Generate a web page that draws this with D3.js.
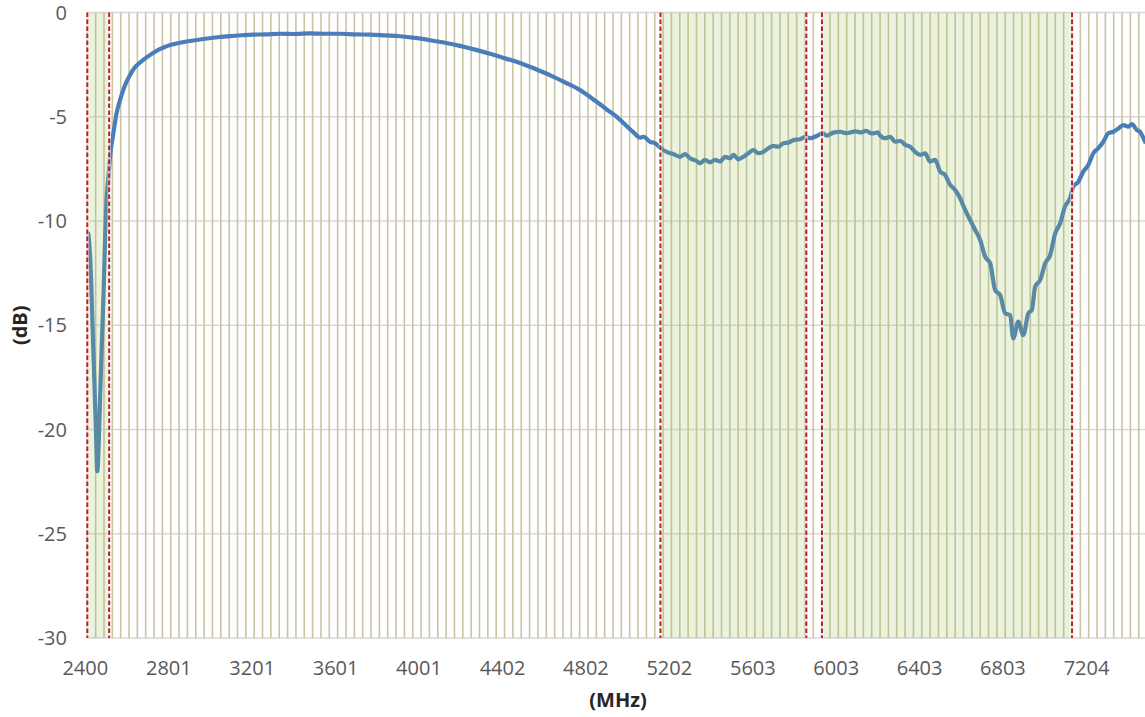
<!DOCTYPE html>
<html>
<head>
<meta charset="utf-8">
<script src="https://cdn.jsdelivr.net/npm/d3@7"></script>
<style>
  html, body { margin: 0; padding: 0; background: #fff; }
  svg { display: block; }
</style>
</head>
<body>
<svg id="chart" width="1145" height="717"></svg>
<script>
// ---- data ----
const freqMHz = [2405,2413,2429,2442,2448,2455,2461,2471,2477,2485,2493,2502,2509,2525,2541,2557,2573,2589,2605,2619,
  2653,2685,2725,2763,2802,2845,2883,2925,2965,3003,3042,3085,3142,3195,3253,3325,3397,3469,3541,3613,
  3685,3757,3829,3901,3973,4045,4116,4188,4260,4332,4404,4476,4548,4620,4692,4764,4812,4860,4892,4924,
  4940,4972,5004,5020,5052,5068,5100,5124,5145,5164,5188,5212,5244,5268,5292,5324,5340,5364,5388,5412,
  5436,5460,5484,5500,5524,5548,5572,5596,5620,5644,5668,5692,5716,5740,5764,5788,5820,5844,5868,5900,
  5929,5948,5980,6012,6044,6060,6084,6108,6137,6165,6194,6204,6228,6252,6276,6300,6324,6348,6372,6396,
  6420,6444,6468,6492,6516,6540,6564,6588,6612,6636,6660,6684,6708,6732,6756,6780,6804,6828,6843,6867,
  6891,6915,6932,6948,6972,6996,7020,7044,7068,7091,7115,7131,7155,7179,7203,7227,7251,7275,7299,7323,
  7347,7371,7395,7412,7436,7451,7475];
const lossDb = [-10.6,-11.6,-16.2,-20.2,-22.0,-20.6,-18.6,-15.5,-13.8,-11.0,-8.9,-7.8,-6.9,-5.8,-4.8,-4.2,-3.7,-3.3,-3.0,-2.75,
  -2.4,-2.15,-1.88,-1.69,-1.55,-1.45,-1.38,-1.32,-1.26,-1.21,-1.17,-1.13,-1.09,-1.06,-1.05,-1.02,-1.03,-1.0,-1.02,-1.02,
  -1.05,-1.06,-1.1,-1.14,-1.22,-1.33,-1.45,-1.6,-1.78,-1.98,-2.2,-2.42,-2.7,-3.0,-3.35,-3.72,-4.05,-4.4,-4.65,-4.88,
  -5.0,-5.3,-5.6,-5.74,-6.0,-5.96,-6.2,-6.27,-6.44,-6.6,-6.72,-6.79,-6.92,-6.79,-6.99,-7.12,-7.23,-7.07,-7.19,-7.07,
  -7.15,-6.92,-6.99,-6.83,-7.04,-6.92,-6.75,-6.6,-6.75,-6.68,-6.51,-6.4,-6.44,-6.27,-6.24,-6.12,-6.08,-5.96,-6.03,-5.92,
  -5.79,-5.91,-5.76,-5.72,-5.79,-5.76,-5.7,-5.75,-5.68,-5.8,-5.75,-5.9,-6.03,-5.96,-6.2,-6.15,-6.35,-6.44,-6.68,-6.83,
  -6.75,-7.15,-7.07,-7.63,-7.79,-8.27,-8.51,-8.91,-9.47,-9.95,-10.43,-10.91,-11.71,-12.03,-13.31,-13.55,-14.43,-14.51,-15.63,-14.83,
  -15.47,-14.43,-14.27,-13.15,-12.83,-12.03,-11.63,-10.59,-10.11,-9.31,-8.91,-8.35,-8.12,-7.63,-7.31,-6.75,-6.51,-6.2,-5.79,-5.72,
  -5.56,-5.4,-5.48,-5.35,-5.64,-5.72,-6.2];

const xTickLabels = ["2400","2801","3201","3601","4001","4402","4802","5202","5603","6003","6403","6803","7204"];
const yTicks = [0, -5, -10, -15, -20, -25, -30];
const bandStart = [2400, 5150, 5925];
const bandEnd   = [2505, 5850, 7125];
const markerMHz = [2400, 2505, 5150, 5850, 5925, 7125];
const gridStepMHz = 40.04;
const xStart = 2400, xEnd = 7475;

// ---- layout ----
const L = 87.3, R = 1145, T = 12.5, B = 638;
const svg = d3.select("#chart");
const x = d3.scaleLinear().domain([xStart, xEnd]).range([L, R]);
const y = d3.scaleLinear().domain([-30, 0]).range([B, T]);

svg.append("defs").append("clipPath").attr("id", "plot")
  .append("rect").attr("x", L).attr("y", T - 5).attr("width", R - L).attr("height", B - T + 10);

// horizontal gridlines
svg.append("g").selectAll("line").data(yTicks).join("line")
  .attr("x1", L).attr("x2", R)
  .attr("y1", d => y(d)).attr("y2", d => y(d))
  .attr("stroke", "#d9d9d9").attr("stroke-width", 1.5);

// vertical gridlines
const vgrid = d3.range(0, Math.floor((xEnd - xStart) / gridStepMHz) + 1).map(i => xStart + i * gridStepMHz);
svg.append("g").selectAll("line").data(vgrid).join("line")
  .attr("x1", d => x(d)).attr("x2", d => x(d))
  .attr("y1", T).attr("y2", B)
  .attr("stroke", "#cbc4a4").attr("stroke-width", 1.6);

// curve
const data = freqMHz.map((f, i) => ({ f, v: lossDb[i] }));
svg.append("path").datum(data)
  .attr("clip-path", "url(#plot)")
  .attr("fill", "none")
  .attr("stroke", "#4a7ebb")
  .attr("stroke-width", 4.2)
  .attr("stroke-linejoin", "round")
  .attr("stroke-linecap", "round")
  .attr("d", d3.line().x(d => x(d.f)).y(d => y(d.v)).curve(d3.curveMonotoneX));

// green bands (translucent overlay)
svg.append("g").selectAll("rect").data(bandStart).join("rect")
  .attr("x", d => x(d))
  .attr("width", (d, i) => x(bandEnd[i]) - x(d))
  .attr("y", T).attr("height", B - T)
  .attr("fill", "rgb(150,190,80)").attr("fill-opacity", 0.19);

// red dashed markers
const mk = svg.append("g");
mk.selectAll("line.w").data(markerMHz).join("line").attr("class", "w")
  .attr("x1", d => x(d)).attr("x2", d => x(d)).attr("y1", T).attr("y2", B)
  .attr("stroke", "#ffffff").attr("stroke-opacity", 0.55).attr("stroke-width", 3.5);
mk.selectAll("line.r").data(markerMHz).join("line").attr("class", "r")
  .attr("x1", d => x(d)).attr("x2", d => x(d)).attr("y1", T).attr("y2", B)
  .attr("stroke", "#b81e22").attr("stroke-width", 2).attr("stroke-dasharray", "4.5,2.5");

// y tick labels
svg.append("g").selectAll("text").data(yTicks).join("text")
  .attr("x", 67).attr("y", d => y(d))
  .attr("dy", "0.36em")
  .attr("text-anchor", "end")
  .attr("font-family", "'Open Sans', sans-serif").attr("font-size", 20)
  .attr("fill", "#595959")
  .text(d => d);

// x tick labels
svg.append("g").selectAll("text").data(xTickLabels).join("text")
  .attr("x", d => x(+d) - 2).attr("y", 668)
  .attr("dy", "0.36em")
  .attr("text-anchor", "middle")
  .attr("font-family", "'Open Sans', sans-serif").attr("font-size", 20)
  .attr("fill", "#595959")
  .text(d => d);

// axis titles
svg.append("text")
  .attr("transform", "translate(20," + ((T + B) / 2) + ") rotate(-90)")
  .attr("text-anchor", "middle").attr("dy", "0.36em")
  .attr("font-family", "'Open Sans', sans-serif").attr("font-size", 20).attr("font-weight", "bold")
  .attr("fill", "#262626")
  .text("(dB)");
svg.append("text")
  .attr("x", 618).attr("y", 700).attr("dy", "0.36em")
  .attr("text-anchor", "middle")
  .attr("font-family", "'Open Sans', sans-serif").attr("font-size", 20).attr("font-weight", "bold")
  .attr("fill", "#262626")
  .text("(MHz)");
</script>
</body>
</html>
